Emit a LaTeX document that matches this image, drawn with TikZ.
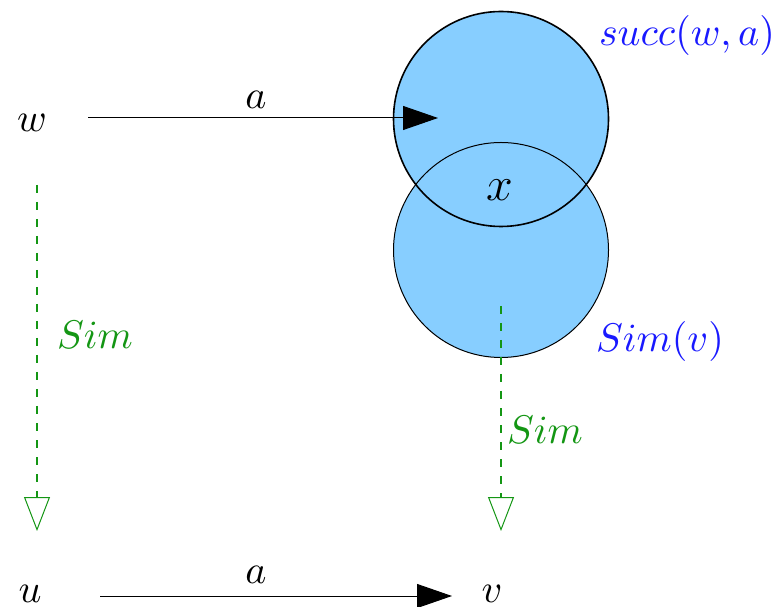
\documentclass[tikz,border=0pt]{standalone}
\usetikzlibrary{arrows.meta}
\definecolor{cfill}{RGB}{135,206,255}
\definecolor{simgreen}{RGB}{20,150,20}
\definecolor{lblblue}{RGB}{25,25,255}
\begin{document}
\begin{tikzpicture}[x=0.25pt,y=-0.25pt,
  txt/.style={inner sep=0pt},
  trans/.style={line width=0.25pt,-{Triangle[length=8.75pt,width=6pt]}},
  simarrow/.style={simgreen,line width=0.3pt,dash pattern=on 2pt off 2.25pt,
    -{Triangle[open,length=8.5pt,width=6.5pt,line width=0.25pt]}},
  blob/.style={circle,fill=cfill,inner sep=0pt,minimum size=53.75pt}]
\useasboundingbox (0,0) rectangle (778,607);
% circles
\node[blob] (c1) at (501,119) {};
\node[blob] (c2) at (501,250) {};
\draw[line width=0.4pt] (c1.center) circle[radius=26.875pt];
\draw[line width=0.25pt] (c2.center) circle[radius=26.875pt];
% labels
\node[txt] (w) at (32,123) {$w$};
\node[txt] (u) at (30,594) {$u$};
\node[txt] (v) at (492,594) {$v$};
\node[txt,font=\fontsize{11.5}{13}\selectfont] (x) at (500,190) {$x$};
\node[txt,text=lblblue] (succ) at (687,36) {$succ(w,a)$};
\node[txt,text=lblblue] (simv) at (660,342) {$Sim(v)$};
\node[txt] (a1) at (256,100) {$a$};
\node[txt] (a2) at (256,575) {$a$};
\node[txt,text=simgreen] (sim1) at (95,335) {$Sim$};
\node[txt,text=simgreen] (sim2) at (545,430) {$Sim$};
% connector end points
\coordinate (w0) at (88,118);
\coordinate (w1) at (438,118);
\coordinate (u0) at (100,596);
\coordinate (u1) at (452,596);
\coordinate (s0) at (37,185);
\coordinate (s1) at (37,531);
\coordinate (t0) at (501,306);
\coordinate (t1) at (501,531);
\draw[trans] (w0) -- (w1);
\draw[trans] (u0) -- (u1);
\draw[simarrow] (s0) -- (s1);
\draw[simarrow] (t0) -- (t1);
\end{tikzpicture}
\end{document}
